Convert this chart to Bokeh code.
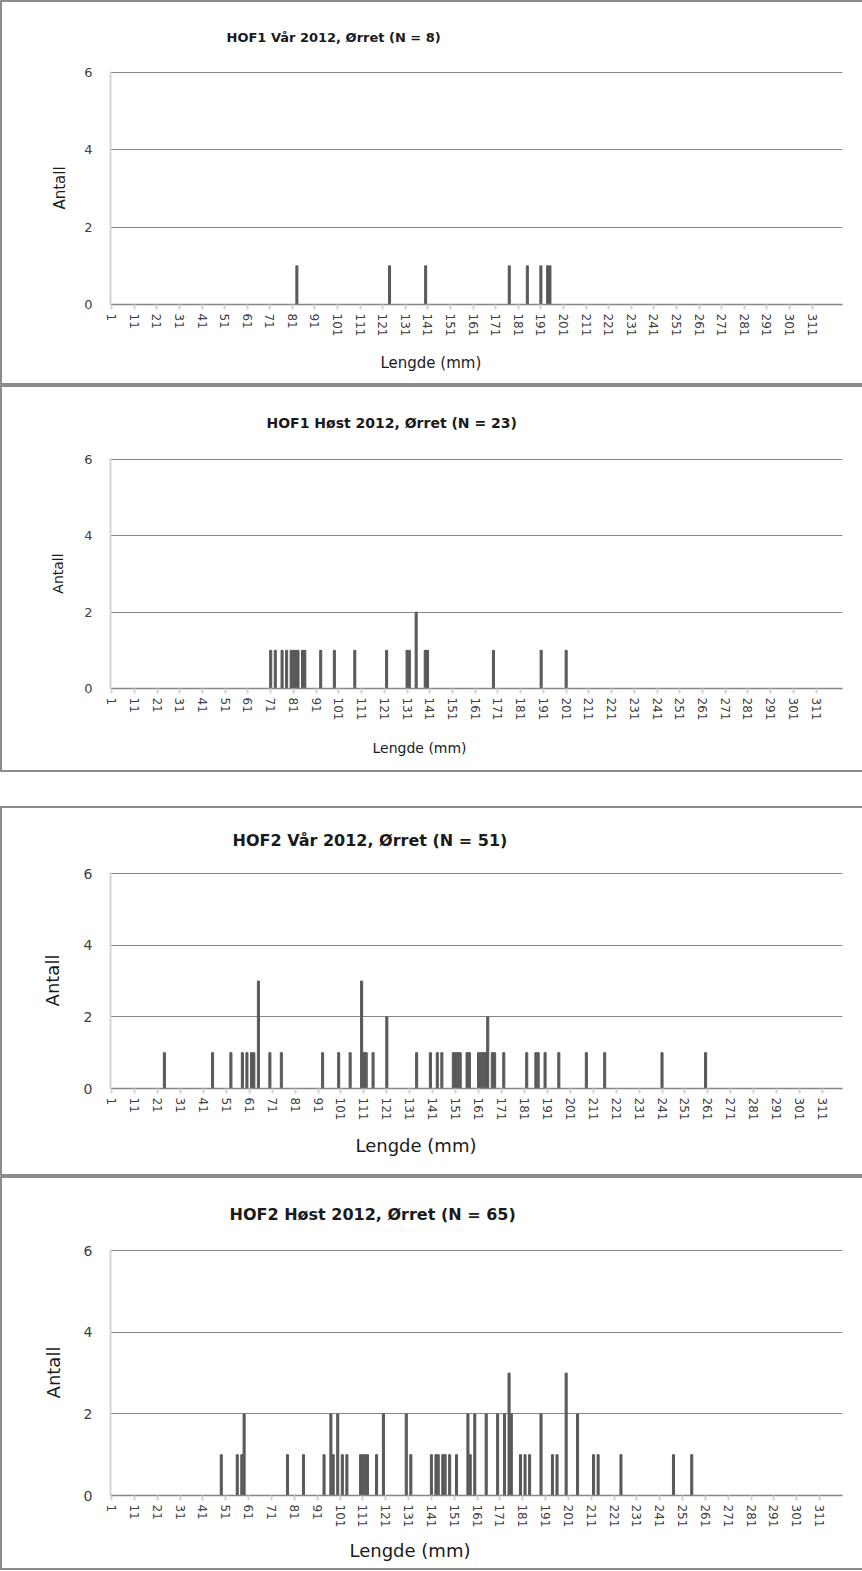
from bokeh.plotting import figure
from bokeh.layouts import column
from bokeh.models import Title, FixedTicker, Range1d, Spacer
from bokeh.embed import file_html
from bokeh.resources import INLINE

# ---------------- data ----------------
x_tick_values = list(range(1, 312, 10))          # 1, 11, 21, ... 311
y_tick_values = [0, 2, 4, 6]

titles = [
    "HOF1 Vår 2012, Ørret (N = 8)",
    "HOF1 Høst 2012, Ørret (N = 23)",
    "HOF2 Vår 2012, Ørret (N = 51)",
    "HOF2 Høst 2012, Ørret (N = 65)",
]
x_label = "Lengde (mm)"
y_label = "Antall"

hof1_var_len = [83, 124, 140, 177, 185, 191, 194, 195]
hof1_var_cnt = [1, 1, 1, 1, 1, 1, 1, 1]

hof1_host_len = [71, 73, 76, 78, 80, 81, 82, 83, 85, 86, 93, 99, 108, 122,
                 131, 132, 135, 139, 140, 169, 190, 201]
hof1_host_cnt = [1, 1, 1, 1, 1, 1, 1, 1, 1, 1, 1, 1, 1, 1,
                 1, 1, 2, 1, 1, 1, 1, 1]

hof2_var_len = [24, 45, 53, 58, 60, 62, 63, 65, 70, 75,
                93, 100, 105, 110, 111, 112, 115, 121, 134, 140,
                143, 145, 150, 151, 152, 153, 156, 157, 161, 162,
                163, 164, 165, 167, 168, 172, 182, 186, 187, 190,
                196, 208, 216, 241, 260]
hof2_var_cnt = [1, 1, 1, 1, 1, 1, 1, 3, 1, 1,
                1, 1, 1, 3, 1, 1, 1, 2, 1, 1,
                1, 1, 1, 1, 1, 1, 1, 1, 1, 1,
                1, 1, 2, 1, 1, 1, 1, 1, 1, 1,
                1, 1, 1, 1, 1]

hof2_host_len = [49, 56, 58, 59, 78, 85, 94, 97, 98, 100,
                 102, 104, 110, 111, 112, 113, 117, 120, 130, 132,
                 141, 143, 144, 146, 147, 149, 152, 157, 158, 160,
                 165, 170, 173, 175, 176, 180, 182, 184, 189, 194,
                 196, 200, 205, 212, 214, 224, 247, 255]
hof2_host_cnt = [1, 1, 1, 2, 1, 1, 1, 2, 1, 2,
                 1, 1, 1, 1, 1, 1, 1, 2, 2, 1,
                 1, 1, 1, 1, 1, 1, 1, 2, 1, 2,
                 2, 2, 2, 3, 2, 1, 1, 1, 2, 1,
                 1, 3, 2, 1, 1, 1, 1, 1]

FONT = "DejaVu Sans"
BAR = "#595959"
GRID = "#868686"
TXT = "#404040"
W = 862


def make_panel(title, lengths, counts, cfg):
    p = figure(width=W, height=cfg["h"],
               x_range=Range1d(0.5, cfg["xend"]), y_range=Range1d(0, 6.03),
               output_backend="svg", toolbar_location=None,
               min_border_top=cfg["mbt"], min_border_bottom=cfg["mbb"],
               min_border_left=cfg["mbl"], min_border_right=cfg["mbr"])
    p.outline_line_color = None
    p.background_fill_color = "white"
    p.border_fill_color = None
    # Excel chart-area frame: left, top and bottom edges (right edge is cut off)
    p.styles = {"background-color": "white",
                "box-shadow": "inset 2px 2px 0 #8c8c8c, inset 0 -2px 0 #8c8c8c"}

    p.vbar(x=lengths, top=counts, width=0.9, color=BAR)

    # chart title
    p.title.text = title
    p.title.align = "left"
    p.title.offset = cfg["toff"]
    p.title.standoff = cfg["tstand"]
    p.title.text_font = FONT
    p.title.text_font_style = "bold"
    p.title.text_font_size = cfg["tsize"]
    p.title.text_color = "#1a1a1a"

    # x axis
    xa = p.xaxis[0]
    xa.ticker = FixedTicker(ticks=x_tick_values)
    xa.major_label_orientation = "vertical"
    xa.major_label_text_font = FONT
    xa.major_label_text_font_size = cfg["xts"]
    xa.major_label_text_color = TXT
    xa.major_label_standoff = 4
    xa.axis_line_color = GRID
    xa.axis_line_width = 1.5
    xa.major_tick_in = 0
    xa.major_tick_out = 5
    xa.major_tick_line_color = "#d0d0d0"
    xa.major_tick_line_width = 2
    xa.minor_tick_line_color = None

    # x axis title
    p.add_layout(Title(text=x_label, align="left", offset=cfg["xoff"],
                       standoff=cfg["xstand"], text_font=FONT,
                       text_font_style="normal", text_font_size=cfg["xls"],
                       text_color="#1a1a1a"), "below")

    # y axis
    ya = p.yaxis[0]
    ya.ticker = FixedTicker(ticks=y_tick_values)
    ya.axis_label = y_label
    ya.axis_label_text_font = FONT
    ya.axis_label_text_font_style = "normal"
    ya.axis_label_text_font_size = cfg["xls"]
    ya.axis_label_text_color = "#1a1a1a"
    ya.axis_label_standoff = cfg["ystand"]
    ya.major_label_text_font = FONT
    ya.major_label_text_font_size = cfg["yts"]
    ya.major_label_text_color = TXT
    ya.major_label_standoff = 12
    ya.axis_line_color = "#d4d4d4"
    ya.axis_line_width = 2
    ya.major_tick_line_color = None
    ya.minor_tick_line_color = None

    p.xgrid.visible = False
    p.ygrid.ticker = FixedTicker(ticks=y_tick_values)
    p.ygrid.grid_line_color = GRID
    p.ygrid.grid_line_width = 1
    return p


cfgs = [
    dict(h=385, mbt=71, mbb=81, mbl=104, mbr=0, xend=324.5, toff=116, tstand=54,
         tsize="13px", xts="12px", yts="13px", xls="15px", xoff=270, xstand=24, ystand=12),
    dict(h=387, mbt=73, mbb=84, mbl=98, mbr=0, xend=322.6, toff=156, tstand=55,
         tsize="14px", xts="12px", yts="13px", xls="14px", xoff=262, xstand=28, ystand=15),
    dict(h=370, mbt=65, mbb=88, mbl=99, mbr=20, xend=319.7, toff=122, tstand=45,
         tsize="16px", xts="12px", yts="14px", xls="18px", xoff=245, xstand=18, ystand=18),
    dict(h=394, mbt=72, mbb=75, mbl=110, mbr=8, xend=321.0, toff=119, tstand=52,
         tsize="16px", xts="12px", yts="14px", xls="18px", xoff=239, xstand=14, ystand=17),
]

datasets = [
    (hof1_var_len, hof1_var_cnt),
    (hof1_host_len, hof1_host_cnt),
    (hof2_var_len, hof2_var_cnt),
    (hof2_host_len, hof2_host_cnt),
]

panels = [make_panel(t, d[0], d[1], c) for t, d, c in zip(titles, datasets, cfgs)]

layout = column(panels[0], panels[1], Spacer(width=W, height=34), panels[2], panels[3],
                spacing=0)

open("out.html", "w").write(file_html(layout, INLINE))
